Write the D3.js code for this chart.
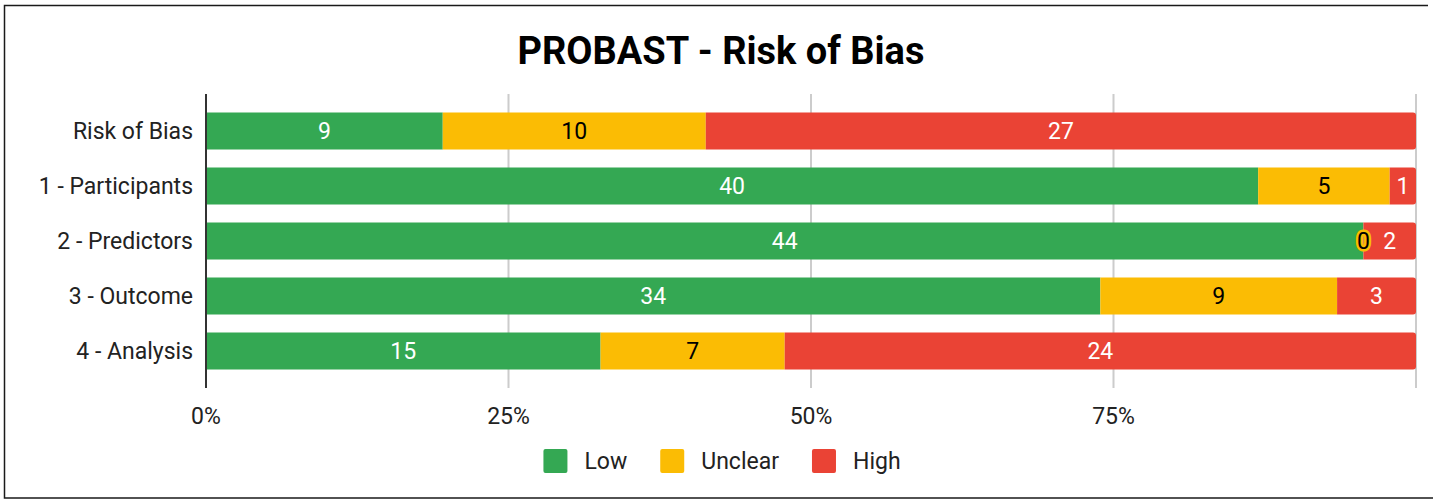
<!DOCTYPE html>
<html lang="en">
<head>
  <meta charset="utf-8">
  <title>PROBAST - Risk of Bias</title>
  <script src="https://cdn.jsdelivr.net/npm/d3@7"></script>
  <style>
    body { margin: 0; background: #fff; }
    text { font-family: Roboto, "Noto Sans", sans-serif; }
  </style>
</head>
<body>
  <svg class="chart" width="1433" height="499"></svg>
  <script>
    var width = 1433, height = 499;

    var categories = ["Risk of Bias", "1 - Participants", "2 - Predictors", "3 - Outcome", "4 - Analysis"];
    var seriesNames = ["Low", "Unclear", "High"];
    var low     = [9, 40, 44, 34, 15];
    var unclear = [10, 5, 0, 9, 7];
    var high    = [27, 1, 2, 3, 24];
    var tickValues = [0, 0.25, 0.5, 0.75];
    var gridValues = [0.25, 0.5, 0.75, 1];

    var colors = { "Low": "#34a853", "Unclear": "#fbbc04", "High": "#ea4335" };
    var labelColors = { "Low": "#fff", "Unclear": "#000", "High": "#fff" };

    var data = categories.map(function(c, i) {
      return { category: c, Low: low[i], Unclear: unclear[i], High: high[i] };
    });

    var stacked = d3.stack()
                    .keys(seriesNames)
                    .offset(d3.stackOffsetExpand)(data);

    var x = d3.scaleLinear()
              .domain([0, 1])
              .range([206, 1416]);

    var y = d3.scaleBand()
              .domain(categories)
              .range([94, 388])
              .paddingInner(0.327)
              .paddingOuter(0.336);

    var svg = d3.select("svg.chart");

    // frame
    svg.append("path")
       .attr("d", "M1428,5.5H4.5V498H1433")
       .attr("fill", "none")
       .attr("stroke", "#1a1a1a")
       .attr("stroke-width", 1.5);

    svg.append("text")
       .attr("x", 721)
       .attr("y", 64)
       .attr("text-anchor", "middle")
       .attr("font-size", 38)
       .attr("font-weight", "bold")
       .attr("fill", "#000")
       .text("PROBAST - Risk of Bias");

    // gridlines
    svg.append("g")
       .selectAll("line")
       .data(gridValues)
       .join("line")
       .attr("x1", function(d) { return x(d); })
       .attr("x2", function(d) { return x(d); })
       .attr("y1", 94)
       .attr("y2", 388)
       .attr("stroke", "#cccccc")
       .attr("stroke-width", 2);

    // flatten segments
    var segments = [];
    stacked.forEach(function(layer) {
      layer.forEach(function(p) { segments.push({ key: layer.key, p: p }); });
    });

    // bars
    var last = seriesNames[seriesNames.length - 1];
    var r = 3;
    svg.append("g")
       .selectAll("path")
       .data(segments)
       .join("path")
       .attr("fill", function(d) { return colors[d.key]; })
       .attr("d", function(d) {
         var x0 = x(d.p[0]), x1 = x(d.p[1]);
         var y0 = y(d.p.data.category), h = y.bandwidth();
         if (x1 - x0 <= 0) return "";
         if (d.key !== last) return "M" + x0 + "," + y0 + "H" + x1 + "V" + (y0 + h) + "H" + x0 + "Z";
         return "M" + x0 + "," + y0 + "H" + (x1 - r) + "Q" + x1 + "," + y0 + " " + x1 + "," + (y0 + r) +
                "V" + (y0 + h - r) + "Q" + x1 + "," + (y0 + h) + " " + (x1 - r) + "," + (y0 + h) +
                "H" + x0 + "Z";
       });

    // value labels (drawn above every bar, halo in segment colour)
    svg.append("g")
       .selectAll("text")
       .data(segments)
       .join("text")
       .attr("x", function(d) { return (x(d.p[0]) + x(d.p[1])) / 2; })
       .attr("y", function(d) { return y(d.p.data.category) + y.bandwidth() / 2; })
       .attr("dy", "0.36em")
       .attr("text-anchor", "middle")
       .attr("font-size", 23)
       .attr("fill", function(d) { return labelColors[d.key]; })
       .attr("stroke", function(d) { return colors[d.key]; })
       .attr("stroke-width", 5)
       .attr("stroke-linejoin", "round")
       .attr("paint-order", "stroke")
       .text(function(d) { return d.p.data[d.key]; });

    // axis line
    svg.append("line")
       .attr("x1", x(0)).attr("x2", x(0))
       .attr("y1", 94).attr("y2", 388)
       .attr("stroke", "#333")
       .attr("stroke-width", 2);

    // category labels
    svg.append("g")
       .selectAll("text")
       .data(categories)
       .join("text")
       .attr("x", 193)
       .attr("y", function(d) { return y(d) + y.bandwidth() / 2; })
       .attr("dy", "0.36em")
       .attr("text-anchor", "end")
       .attr("font-size", 23)
       .attr("fill", "#222")
       .text(function(d) { return d; });

    // x tick labels
    svg.append("g")
       .selectAll("text")
       .data(tickValues)
       .join("text")
       .attr("x", function(d) { return x(d); })
       .attr("y", 424)
       .attr("text-anchor", "middle")
       .attr("font-size", 23)
       .attr("fill", "#222")
       .text(d3.format(".0%"));

    // legend
    var legend = svg.append("g");
    var items = legend.selectAll("g")
                      .data(seriesNames)
                      .join("g");
    items.append("rect")
         .attr("width", 24).attr("height", 24)
         .attr("rx", 2)
         .attr("y", 449)
         .attr("fill", function(d) { return colors[d]; });
    items.append("text")
         .attr("x", 41)
         .attr("y", 461)
         .attr("dy", "0.36em")
         .attr("font-size", 23)
         .attr("fill", "#222")
         .text(function(d) { return d; });

    var widths = [];
    items.each(function() { widths.push(41 + d3.select(this).select("text").node().getComputedTextLength()); });
    var total = d3.sum(widths) + 33 * (widths.length - 1);
    var pos = 722 - total / 2;
    items.attr("transform", function(d, i) {
      var t = "translate(" + pos + ",0)";
      pos += widths[i] + 33;
      return t;
    });
  </script>
</body>
</html>
